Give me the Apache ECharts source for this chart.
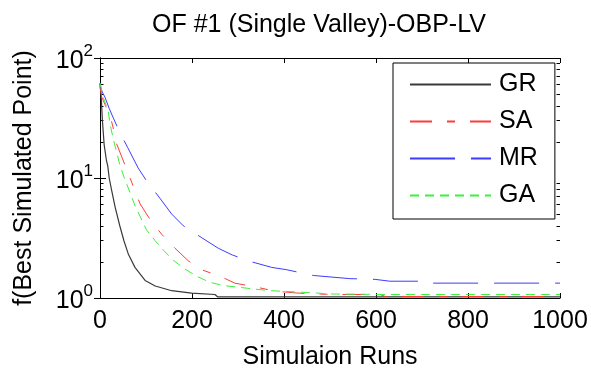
<!DOCTYPE html>
<html>
<head>
<meta charset="utf-8">
<script src="https://cdn.jsdelivr.net/npm/echarts@6/dist/echarts.min.js"></script>
<style>html,body{margin:0;padding:0;background:#fff;}#c{width:591px;height:375px;}</style>
</head>
<body>
<div id="c"></div>
<script>
var titleText = 'OF #1 (Single Valley)-OBP-LV';
var xName = 'Simulaion Runs';
var yName = 'f(Best Simulated Point)';
var seriesNames = ['GR', 'SA', 'MR', 'GA'];
var xTicks = [0, 200, 400, 600, 800, 1000];
var yTickExponents = [0, 1, 2];
var yMinorTicks = [2, 3, 4, 5, 6, 7, 8, 9, 20, 30, 40, 50, 60, 70, 80, 90];

var grData = [[0,62],[3,45],[5,31],[9,19],[14,14],[17,12.5],[20,10],[25,8],[33,5.7],[43,4.0],[52,3.0],[62,2.3],[76,1.8],[98,1.4],[120,1.26],[156,1.15],[199,1.1],[250,1.07],[256,1.02],[1000,1.02]];
var saData = [[0,58],[4,47],[12,40],[22,33],[33,22.5],[36,19.3],[58,11.8],[72,8.6],[87,6.1],[109,4.5],[134,3.4],[163,2.6],[192,2.04],[221,1.72],[264,1.5],[293,1.33],[341,1.23],[380,1.14],[428,1.1],[471,1.08],[514,1.07],[609,1.07],[620,1.03],[1000,1.03]];
var mrData = [[0,60],[5,52],[11,47],[20,38],[29,31.6],[43,24],[60,18],[83,12.1],[101,9.5],[130,6.8],[156,5.0],[181,4.0],[220,3.2],[257,2.6],[288,2.28],[330,2.0],[373,1.8],[406,1.72],[464,1.54],[543,1.45],[598,1.43],[630,1.38],[712,1.38],[717,1.33],[1000,1.33]];
var gaData = [[0,62],[7,47],[18,36],[22,28],[29,21],[36,16.5],[43,12.9],[53,10],[65,7.6],[76,5.9],[87,4.8],[101,3.7],[120,3.0],[138,2.5],[159,2.07],[181,1.78],[210,1.52],[239,1.35],[268,1.27],[301,1.23],[333,1.19],[370,1.15],[395,1.14],[398,1.1],[471,1.1],[500,1.08],[623,1.07],[1000,1.07]];

var FF = '"Liberation Sans", Arial, sans-serif';
var chart = echarts.init(document.getElementById('c'), null, {renderer: 'canvas'});

function logAxis(pos, showLabel, minor) {
  return {
    type: 'log', logBase: 10, min: 1, max: 100, position: pos,
    axisLine: {show: !minor, lineStyle: {color: '#000', width: 1}},
    axisTick: minor ? {show: true, inside: true, length: 3.5, customValues: yMinorTicks, lineStyle: {color: '#000'}}
                    : {show: true, inside: true, length: 6, customValues: yTickExponents.map(function(e){return Math.pow(10, e);}), lineStyle: {color: '#000'}},
    axisLabel: showLabel ? {
      show: true, margin: 7, customValues: yTickExponents.map(function(e){return Math.pow(10, e);}),
      formatter: function (v) { return '{b|10}{e|' + Math.round(Math.log10(v)) + '}'; },
      rich: {
        b: {fontSize: 25, fontFamily: FF, color: '#000', verticalAlign: 'bottom'},
        e: {fontSize: 17, fontFamily: FF, color: '#000', padding: [0, 0, 14, 0], verticalAlign: 'bottom'}
      }
    } : {show: false},
    splitLine: {show: false},
    minorTick: {show: false},
    name: showLabel ? yName : '',
    nameLocation: 'middle', nameGap: 63,
    nameTextStyle: {fontSize: 25, fontFamily: FF, color: '#000'}
  };
}

function linAxis(pos, showLabel) {
  return {
    type: 'value', min: 0, max: 1000, interval: 200, position: pos,
    axisLine: {show: true, lineStyle: {color: '#000', width: 1}},
    axisTick: {show: true, inside: true, length: 5, lineStyle: {color: '#000'}},
    axisLabel: showLabel ? {show: true, margin: 11, fontSize: 25, fontFamily: FF, color: '#000',
      formatter: function (v) { return String(v); }} : {show: false},
    splitLine: {show: false},
    name: showLabel ? xName : '',
    nameLocation: 'middle', nameGap: 47,
    nameTextStyle: {fontSize: 25, fontFamily: FF, color: '#000'}
  };
}

function line(name, data, color, type, width) {
  return {
    name: name, type: 'line', data: data, xAxisIndex: 0, yAxisIndex: 0,
    symbol: 'none', showSymbol: false, animation: false, silent: true,
    lineStyle: {color: color, width: width, type: type},
    itemStyle: {color: color}
  };
}

chart.setOption({
  animation: false,
  backgroundColor: '#fff',
  title: {text: titleText, left: 152, top: 13, padding: 0,
    textStyle: {fontSize: 25, fontWeight: 'normal', fontFamily: FF, color: '#000'}},
  grid: {left: 100, right: 31, top: 58, bottom: 69, containLabel: false},
  xAxis: [linAxis('bottom', true), linAxis('top', false)],
  yAxis: [logAxis('left', true, false), logAxis('right', false, false), logAxis('left', false, true), logAxis('right', false, true)],
  legend: {
    orient: 'vertical', left: 393, top: 63,
    backgroundColor: '#fff', borderColor: '#000', borderWidth: 1, borderRadius: 0,
    padding: [9, 17, 11, 16], itemGap: 12, itemWidth: 81, itemHeight: 14,
    itemStyle: {opacity: 0},
    textStyle: {fontSize: 25, fontFamily: FF, color: '#000', padding: [0, 0, 0, 3]},
    data: seriesNames
  },
  series: [
    line(seriesNames[0], grData, '#3a3a3a', 'solid', 1.2),
    line(seriesNames[1], saData, '#ff3c3c', [22, 15, 8, 15], 1),
    line(seriesNames[2], mrData, '#3c3cff', [45, 16], 1),
    line(seriesNames[3], gaData, '#3cf03c', [9, 6], 1)
  ]
});
</script>
</body>
</html>
